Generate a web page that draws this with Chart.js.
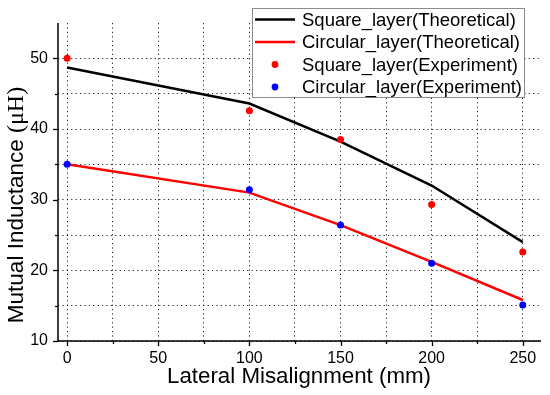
<!DOCTYPE html>
<html>
<head>
<meta charset="utf-8">
<script src="https://cdn.jsdelivr.net/npm/chart.js@4.4.0/dist/chart.umd.min.js"></script>
<style>
html,body{margin:0;padding:0;background:#fff;}
#wrap{width:550px;height:395px;position:relative;}
</style>
</head>
<body>
<div id="wrap"><canvas id="c" width="550" height="395"></canvas></div>
<script>
// ---- data ----
const misalignment = [0, 100, 150, 200, 250];
const squareTheoretical = [48.7, 43.6, 38.2, 32.0, 24.0];
const circularTheoretical = [35.0, 31.0, 26.4, 21.2, 15.8];
const squareExperiment = [50.0, 42.6, 38.5, 29.3, 22.6];
const circularExperiment = [35.0, 31.4, 26.4, 21.0, 15.1];
const seriesLabels = ['Square_layer(Theoretical)', 'Circular_layer(Theoretical)', 'Square_layer(Experiment)', 'Circular_layer(Experiment)'];
const xTickValues = [0, 25, 50, 75, 100, 125, 150, 175, 200, 225, 250];
const yTickValues = [10, 15, 20, 25, 30, 35, 40, 45, 50];
const xTitle = 'Lateral Misalignment (mm)';
const yTitleMain = 'Mutual Inductance ';
const yTitleUnit = '(\u03BCH)';

const pts = arr => misalignment.map((x, i) => ({x: x, y: arr[i]}));
const SANS = '"Liberation Sans", Arial, sans-serif';
const SERIF = '"Liberation Serif", "Times New Roman", serif';

const decor = {
  id: 'decor',
  afterDraw(chart) {
    const ctx = chart.ctx;
    const xs = chart.scales.x, ys = chart.scales.y;
    const area = chart.chartArea;
    ctx.save();
    ctx.setLineDash([]);
    ctx.strokeStyle = '#000';
    ctx.lineWidth = 1.5;
    // axis lines
    ctx.beginPath();
    ctx.moveTo(area.left, area.top); ctx.lineTo(area.left, area.bottom); ctx.lineTo(area.right, area.bottom);
    ctx.stroke();
    ctx.lineWidth = 1.3;
    // tick marks
    xTickValues.forEach(v => {
      const px = Math.round(xs.getPixelForValue(v)) + 0.5;
      const len = v % 50 === 0 ? 5 : 3;
      ctx.beginPath(); ctx.moveTo(px, area.bottom); ctx.lineTo(px, area.bottom + len); ctx.stroke();
    });
    yTickValues.forEach(v => {
      const py = Math.round(ys.getPixelForValue(v)) + 0.5;
      const len = v % 10 === 0 ? 5 : 3;
      ctx.beginPath(); ctx.moveTo(area.left, py); ctx.lineTo(area.left - len, py); ctx.stroke();
    });
    // axis titles
    ctx.fillStyle = '#000';
    ctx.font = '22.3px ' + SANS;
    ctx.textAlign = 'center';
    ctx.textBaseline = 'alphabetic';
    ctx.fillText(xTitle, 299, 383);
    ctx.save();
    ctx.translate(23, 205);
    ctx.rotate(-Math.PI / 2);
    ctx.textAlign = 'left';
    ctx.font = '22.5px ' + SANS;
    const w1 = ctx.measureText(yTitleMain).width;
    ctx.font = '24px ' + SERIF;
    const w2 = ctx.measureText(yTitleUnit).width;
    const start = -(w1 + w2) / 2;
    ctx.font = '22.5px ' + SANS;
    ctx.fillText(yTitleMain, start, 0);
    ctx.font = '24px ' + SERIF;
    ctx.fillText(yTitleUnit, start + w1, 0);
    ctx.restore();
    // legend
    const lx = 252, ly = 8, lw = 272, lh = 89;
    ctx.fillStyle = '#fff';
    ctx.fillRect(lx, ly, lw, lh);
    ctx.strokeStyle = '#8c8c8c';
    ctx.lineWidth = 1;
    ctx.strokeRect(lx + 0.5, ly + 0.5, lw, lh);
    const rows = [19.5, 42, 64.5, 87];
    chart.data.datasets.forEach((ds, i) => {
      const y = rows[i];
      if (ds.showLine) {
        ctx.strokeStyle = ds.borderColor;
        ctx.lineWidth = 2.5;
        ctx.beginPath(); ctx.moveTo(255, y); ctx.lineTo(295, y); ctx.stroke();
      } else {
        ctx.fillStyle = ds.pointBackgroundColor;
        ctx.beginPath(); ctx.arc(275, y, 3.4, 0, Math.PI * 2); ctx.fill();
      }
      ctx.fillStyle = '#000';
      ctx.font = '18.5px ' + SANS;
      ctx.textAlign = 'left';
      ctx.textBaseline = 'middle';
      ctx.fillText(ds.label, 302, y + 1);
    });
    ctx.restore();
  }
};

new Chart(document.getElementById('c'), {
  type: 'scatter',
  data: {
    datasets: [
      {label: seriesLabels[0], data: pts(squareTheoretical), showLine: true, borderColor: '#000000', backgroundColor: '#000000', borderWidth: 2.5, pointRadius: 0, tension: 0, order: 2},
      {label: seriesLabels[1], data: pts(circularTheoretical), showLine: true, borderColor: '#ff0000', backgroundColor: '#ff0000', borderWidth: 2.5, pointRadius: 0, tension: 0, order: 2},
      {label: seriesLabels[2], data: pts(squareExperiment), showLine: false, pointBackgroundColor: '#ff0000', backgroundColor: '#ff0000', pointBorderWidth: 0, pointRadius: 3.5, order: 1},
      {label: seriesLabels[3], data: pts(circularExperiment), showLine: false, pointBackgroundColor: '#0000ff', backgroundColor: '#0000ff', pointBorderWidth: 0, pointRadius: 3.5, order: 0}
    ]
  },
  options: {
    responsive: false,
    animation: false,
    events: [],
    layout: {padding: {left: 0, top: 23, right: 9, bottom: 0}},
    plugins: {legend: {display: false}, tooltip: {enabled: false}, title: {display: false}},
    scales: {
      x: {
        type: 'linear', min: -5, max: 260,
        afterBuildTicks: s => { s.ticks = xTickValues.map(v => ({value: v})); },
        afterFit: s => { s.height = 54; },
        ticks: {autoSkip: false, maxRotation: 0, padding: 8, color: '#000', font: {family: SANS, size: 16},
          callback: v => (v % 50 === 0 ? String(v) : '')},
        grid: {drawTicks: false, color: 'rgba(0,0,0,0.85)', lineWidth: 1},
        border: {display: false, dash: [1.2, 3.2]}
      },
      y: {
        type: 'linear', min: 10, max: 55,
        afterBuildTicks: s => { s.ticks = yTickValues.map(v => ({value: v})); },
        afterFit: s => { s.width = 58; },
        ticks: {autoSkip: false, padding: 10, color: '#000', font: {family: SANS, size: 16},
          callback: v => (v % 10 === 0 ? String(v) : '')},
        grid: {drawTicks: false, color: 'rgba(0,0,0,0.85)', lineWidth: 1},
        border: {display: false, dash: [1.2, 3.2]}
      }
    }
  },
  plugins: [decor]
});
</script>
</body>
</html>
